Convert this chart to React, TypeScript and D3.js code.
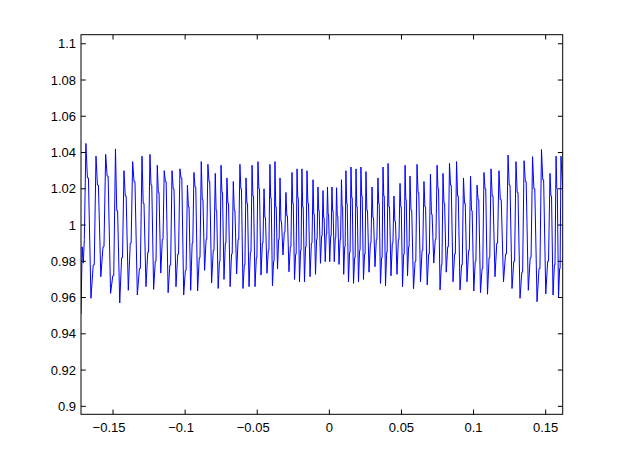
import React from "react";
import * as d3 from "d3";

const W = 622;
const H = 467;

const xTicks = [-0.15, -0.1, -0.05, 0, 0.05, 0.1, 0.15];
const xTickLabels = ["\u22120.15", "\u22120.1", "\u22120.05", "0", "0.05", "0.1", "0.15"];
const yTicks = [0.9, 0.92, 0.94, 0.96, 0.98, 1.0, 1.02, 1.04, 1.06, 1.08, 1.1];
const yTickLabels = ["0.9", "0.92", "0.94", "0.96", "0.98", "1", "1.02", "1.04", "1.06", "1.08", "1.1"];

// leading samples before first peak, trailing sample after the last peak
const leadX = [-0.1722, -0.1714, -0.1706, -0.1699];
const leadY = [0.951, 0.988, 0.979, 0.992];
const tailX = [0.1618];
const tailY = [1.02];

const peakX = [
  -0.1688, -0.1618, -0.1551, -0.1483, -0.1424, -0.1364, -0.1299, -0.1244, -0.1193, -0.1145,
  -0.1091, -0.1036, -0.0984, -0.0939, -0.0888, -0.0842, -0.0791, -0.0751, -0.071, -0.0666,
  -0.062, -0.0578, -0.0536, -0.0495, -0.0453, -0.0412, -0.0377, -0.0342, -0.0301, -0.0259,
  -0.0224, -0.019, -0.0155, -0.0113, -0.0079, -0.0044, -0.0013, 0.0018, 0.005, 0.0084,
  0.0115, 0.015, 0.0185, 0.0219, 0.0254, 0.0296, 0.0337, 0.0372, 0.0407, 0.0448,
  0.049, 0.0525, 0.0559, 0.0608, 0.0656, 0.0701, 0.0747, 0.0788, 0.0833, 0.0882,
  0.093, 0.0979, 0.1024, 0.1072, 0.1121, 0.1176, 0.1239, 0.1294, 0.135, 0.1409,
  0.1471, 0.153, 0.1572, 0.1606,
];

const peakY = [
  1.045, 1.038, 1.039, 1.042, 1.03, 1.035, 1.038, 1.039, 1.033, 1.03,
  1.03, 1.031, 1.022, 1.029, 1.035, 1.0335, 1.0285, 1.033, 1.026, 1.024,
  1.0335, 1.026, 1.033, 1.035, 1.02, 1.0335, 1.035, 1.026, 1.018, 1.029,
  1.031, 1.031, 1.03, 1.025, 1.021, 1.019, 1.021, 1.021, 1.0206, 1.025,
  1.03, 1.032, 1.031, 1.032, 1.0295, 1.021, 1.026, 1.032, 1.034, 1.016,
  1.023, 1.033, 1.027, 1.0335, 1.024, 1.028, 1.033, 1.0285, 1.034, 1.035,
  1.026, 1.027, 1.022, 1.029, 1.031, 1.03, 1.0386, 1.035, 1.0355, 1.0377,
  1.0417, 1.0285, 1.038, 1.038,
];

// trough between peak i and peak i+1
const troughY = [
  0.9596, 0.9715, 0.9623, 0.957, 0.964, 0.9614, 0.966, 0.9645, 0.9735, 0.9627,
  0.966, 0.9614, 0.964, 0.9636, 0.975, 0.968, 0.965, 0.97, 0.966, 0.973,
  0.965, 0.966, 0.966, 0.9724, 0.9734, 0.9665, 0.9757, 0.9835, 0.9742, 0.97,
  0.9687, 0.9687, 0.9715, 0.9728, 0.9789, 0.9798, 0.9798, 0.9798, 0.9783, 0.9728,
  0.9687, 0.9678, 0.9687, 0.97, 0.974, 0.977, 0.9678, 0.9665, 0.972, 0.9728,
  0.966, 0.972, 0.9647, 0.9687, 0.967, 0.979, 0.9642, 0.974, 0.9687, 0.9642,
  0.9687, 0.9636, 0.9627, 0.9618, 0.9715, 0.9687, 0.965, 0.9596, 0.964, 0.9577,
  0.962, 0.9614, 0.96,
];

// plateau on the falling side after each peak
const shoulderHi = [
  1.026, 1.022, 1.027, 1.008, 1.016, 1.024, 1.012, 1.022, 1.018, 1.024,
  1.02, 1.026, 1.01, 1.021, 1.014, 1.024, 1.008, 1.018, 1.012, 1.008,
  1.02, 1.012, 1.016, 1.02, 1.004, 1.015, 1.01, 1.002, 1.005, 1.012,
  1.015, 1.01, 1.012, 1.006, 1.008, 1.004, 1.006, 1.008, 1.005, 1.01,
  1.012, 1.015, 1.01, 1.016, 1.008, 1.004, 1.012, 1.016, 1.01, 1.002,
  1.01, 1.014, 1.008, 1.018, 1.01, 1.006, 1.02, 1.012, 1.022, 1.016,
  1.012, 1.008, 1.014, 1.02, 1.016, 1.014, 1.022, 1.018, 1.024, 1.02,
  1.025, 1.016, 1.02,
];

// plateau on the rising side before the next peak
const shoulderLo = [
  0.978, 0.988, 0.972, 0.982, 0.99, 0.976, 0.985, 0.98, 0.992, 0.978,
  0.984, 0.975, 0.99, 0.982, 0.992, 0.986, 0.98, 0.99, 0.984, 0.992,
  0.978, 0.985, 0.982, 0.99, 0.986, 0.98, 0.992, 0.996, 0.988, 0.984,
  0.986, 0.988, 0.99, 0.992, 0.994, 0.995, 0.994, 0.993, 0.992, 0.988,
  0.985, 0.982, 0.986, 0.984, 0.99, 0.992, 0.982, 0.985, 0.99, 0.992,
  0.984, 0.988, 0.98, 0.986, 0.984, 0.992, 0.978, 0.988, 0.984, 0.978,
  0.986, 0.98, 0.976, 0.982, 0.99, 0.984, 0.98, 0.974, 0.982, 0.976,
  0.98, 0.978, 0.976,
];

const LEFT = 81;
const RIGHT = 562.7;
const TOP = 34.7;
const BOTTOM = 414.3;

export default function App() {
  const x = d3.scaleLinear().domain([-0.1722, 0.1618]).range([LEFT, RIGHT]);
  const y = d3.scaleLinear().domain([0.8956, 1.105]).range([BOTTOM, TOP]);

  const pts: [number, number][] = [];
  leadX.forEach((v, i) => pts.push([v, leadY[i]]));
  for (let i = 0; i < peakX.length; i++) {
    pts.push([peakX[i], peakY[i]]);
    if (i < peakX.length - 1) {
      const px = peakX[i];
      const nx = peakX[i + 1];
      const tx = (px + nx) / 2;
      const d1 = tx - px;
      const d2 = nx - tx;
      pts.push([px + 0.3 * d1, shoulderHi[i]]);
      pts.push([px + 0.5 * d1, shoulderHi[i]]);
      pts.push([tx, troughY[i]]);
      pts.push([tx + 0.45 * d2, shoulderLo[i]]);
      pts.push([tx + 0.65 * d2, shoulderLo[i]]);
    }
  }
  tailX.forEach((v, i) => pts.push([v, tailY[i]]));

  const line = d3
    .line<[number, number]>()
    .x((d) => x(d[0]))
    .y((d) => y(d[1]));

  const tickLen = 4.8;
  const font = "'Liberation Sans', Arial, Helvetica, sans-serif";

  return (
    <svg
      width={W}
      height={H}
      style={{ position: "absolute", left: 0, top: 0, background: "#fff" }}
    >
      <rect x={0} y={0} width={W} height={H} fill="#fff" />
      <defs>
        <clipPath id="plotclip">
          <rect x={LEFT} y={TOP} width={RIGHT - LEFT} height={BOTTOM - TOP} />
        </clipPath>
      </defs>
      <path
        d={line(pts) || ""}
        fill="none"
        stroke="#0000ff"
        strokeWidth={1}
        strokeLinejoin="round"
        clipPath="url(#plotclip)"
      />
      {/* ticks */}
      {xTicks.map((t, i) => (
        <g key={"xt" + i}>
          <line x1={x(t)} x2={x(t)} y1={BOTTOM} y2={BOTTOM - tickLen} stroke="#000" strokeWidth={1} />
          <line x1={x(t)} x2={x(t)} y1={TOP} y2={TOP + tickLen} stroke="#000" strokeWidth={1} />
          <text
            x={x(t) + (t < 0 ? -4 : 0)}
            y={BOTTOM + 17.7}
            textAnchor="middle"
            fontFamily={font}
            fontSize={13}
            fill="#000"
          >
            {xTickLabels[i]}
          </text>
        </g>
      ))}
      {yTicks.map((t, i) => (
        <g key={"yt" + i}>
          <line x1={LEFT} x2={LEFT + tickLen} y1={y(t)} y2={y(t)} stroke="#000" strokeWidth={1} />
          <line x1={RIGHT} x2={RIGHT - tickLen} y1={y(t)} y2={y(t)} stroke="#000" strokeWidth={1} />
          <text
            x={LEFT - 5}
            y={y(t) + 4.6}
            textAnchor="end"
            fontFamily={font}
            fontSize={13}
            fill="#000"
          >
            {yTickLabels[i]}
          </text>
        </g>
      ))}
      <rect
        x={LEFT}
        y={TOP}
        width={RIGHT - LEFT}
        height={BOTTOM - TOP}
        fill="none"
        stroke="#000"
        strokeWidth={1}
      />
    </svg>
  );
}
